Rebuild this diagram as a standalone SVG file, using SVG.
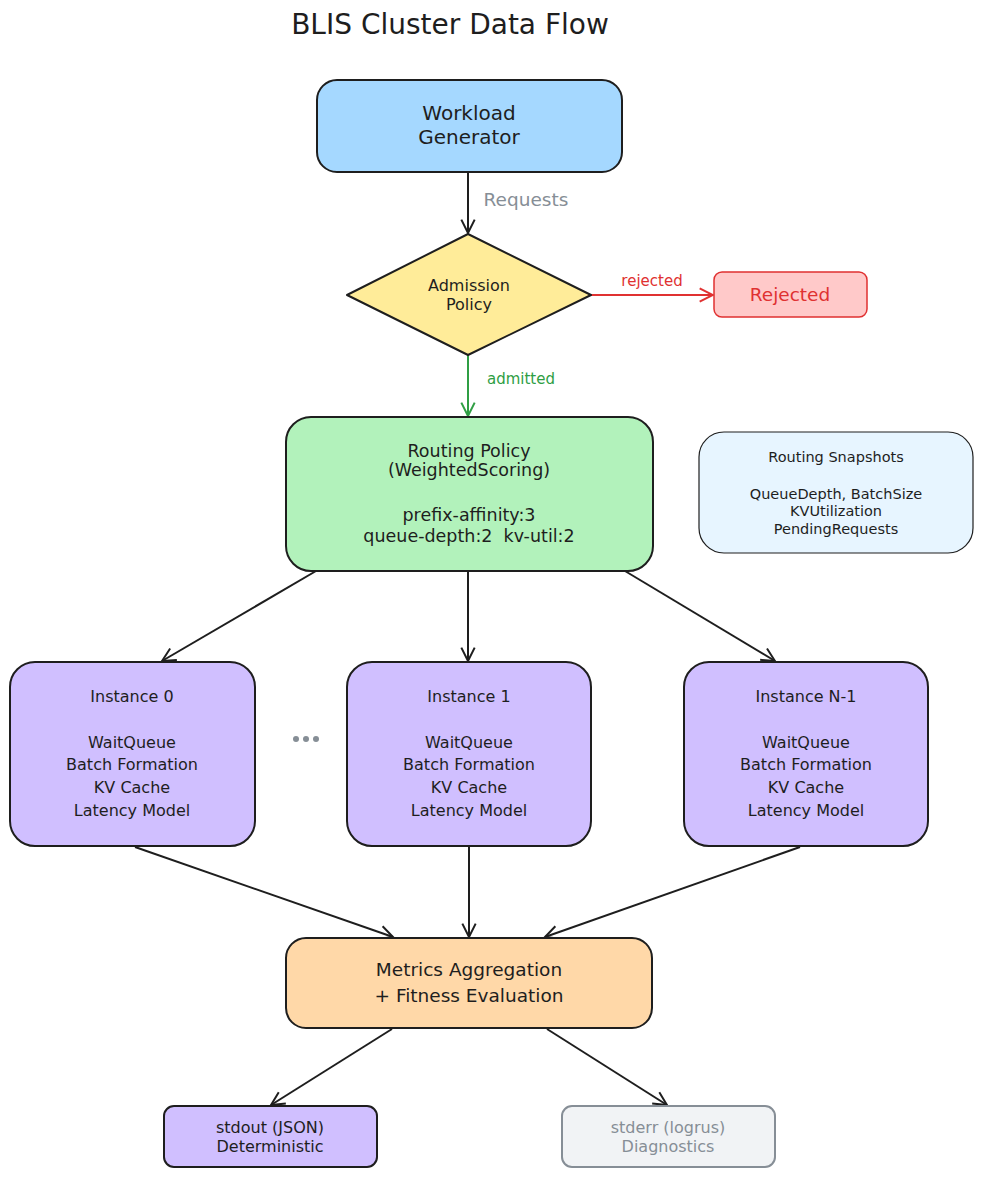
<svg xmlns="http://www.w3.org/2000/svg" width="984" height="1177" viewBox="0 0 984 1177">
  <style>
    text { font-family: "DejaVu Sans", "Liberation Sans", sans-serif; text-anchor: middle; fill: #1e1e1e; }
    .box { stroke: #1e1e1e; stroke-width: 2; }
    .edge { fill: none; stroke: #1e1e1e; stroke-width: 2; }
    .title { font-size: 28px; }
    .t20 { font-size: 20px; }
    .t18 { font-size: 18.5px; }
    .t17 { font-size: 17.5px; }
    .t16 { font-size: 16px; }
    .t15 { font-size: 16px; }
    .t14 { font-size: 14.5px; }
    .tlab { font-size: 15px; }
    .muted { fill: #868e96; }
    .red { fill: #e03131; }
    .green { fill: #2f9e44; }
  </style>
  <defs>
    <marker id="arrow" viewBox="0 0 12 12" refX="11" refY="6" markerWidth="16" markerHeight="16" markerUnits="userSpaceOnUse" orient="auto">
      <path d="M1,1 L11,6 L1,11" fill="none" stroke="#1e1e1e" stroke-width="1.5"/>
    </marker>
    <marker id="arrow-red" viewBox="0 0 12 12" refX="11" refY="6" markerWidth="16" markerHeight="16" markerUnits="userSpaceOnUse" orient="auto">
      <path d="M1,1 L11,6 L1,11" fill="none" stroke="#e03131" stroke-width="1.5"/>
    </marker>
    <marker id="arrow-green" viewBox="0 0 12 12" refX="11" refY="6" markerWidth="16" markerHeight="16" markerUnits="userSpaceOnUse" orient="auto">
      <path d="M1,1 L11,6 L1,11" fill="none" stroke="#2f9e44" stroke-width="1.5"/>
    </marker>
  </defs>

  <rect width="984" height="1177" fill="#ffffff"/>

  <text class="title" x="450" y="34">BLIS Cluster Data Flow</text>

  <!-- connectors -->
  <g id="connectors">
    <line class="edge" x1="468" y1="172" x2="468" y2="233" marker-end="url(#arrow)"/>
    <text class="t18 muted" x="526" y="206">Requests</text>

    <line class="edge" x1="591" y1="295" x2="713" y2="295" style="stroke:#e03131" marker-end="url(#arrow-red)"/>
    <text class="tlab red" x="652" y="286">rejected</text>

    <line class="edge" x1="468" y1="355" x2="468" y2="416" style="stroke:#2f9e44" marker-end="url(#arrow-green)"/>
    <text class="tlab green" x="521" y="384">admitted</text>

    <line class="edge" x1="316" y1="571" x2="162" y2="661" marker-end="url(#arrow)"/>
    <line class="edge" x1="468" y1="571" x2="468" y2="661" marker-end="url(#arrow)"/>
    <line class="edge" x1="625" y1="571" x2="775" y2="661" marker-end="url(#arrow)"/>

    <line class="edge" x1="135" y1="847" x2="393" y2="937" marker-end="url(#arrow)"/>
    <line class="edge" x1="469" y1="847" x2="469" y2="937" marker-end="url(#arrow)"/>
    <line class="edge" x1="800" y1="847" x2="545" y2="937" marker-end="url(#arrow)"/>

    <line class="edge" x1="392" y1="1029" x2="271" y2="1105" marker-end="url(#arrow)"/>
    <line class="edge" x1="547" y1="1029" x2="667" y2="1105" marker-end="url(#arrow)"/>
  </g>

  <g id="workload-generator">
    <rect class="box" x="317" y="80" width="305" height="92" rx="20" fill="#a5d8ff"/>
    <text class="t20" x="469" y="120">Workload</text>
    <text class="t20" x="469" y="144">Generator</text>
  </g>

  <g id="admission-policy">
    <polygon class="box" points="468,234 591,295 468,355 347,295" fill="#ffec99" stroke-linejoin="round"/>
    <text class="t16" x="469" y="291">Admission</text>
    <text class="t16" x="469" y="310">Policy</text>
  </g>

  <g id="rejected">
    <rect x="714" y="272" width="153" height="45" rx="8" fill="#ffc9c9" stroke="#e03131" stroke-width="1.5"/>
    <text class="t18 red" x="790" y="301">Rejected</text>
  </g>

  <g id="routing-policy">
    <rect class="box" x="286" y="417" width="367" height="154" rx="25" fill="#b2f2bb"/>
    <text class="t17" x="469" y="457">Routing Policy</text>
    <text class="t17" x="469" y="476">(WeightedScoring)</text>
    <text class="t17" x="469" y="521">prefix-affinity:3</text>
    <text class="t17" x="469" y="542" xml:space="preserve">queue-depth:2  kv-util:2</text>
  </g>

  <g id="routing-snapshots">
    <rect x="699" y="432" width="274" height="121" rx="25" fill="#e7f5ff" stroke="#1e1e1e" stroke-width="1.2"/>
    <text class="t14" x="836" y="462">Routing Snapshots</text>
    <text class="t14" x="836" y="499">QueueDepth, BatchSize</text>
    <text class="t14" x="836" y="516">KVUtilization</text>
    <text class="t14" x="836" y="534">PendingRequests</text>
  </g>

  <g id="instance-0">
    <rect class="box" x="10" y="662" width="245" height="184" rx="25" fill="#d0bfff"/>
    <text class="t15" x="132" y="702">Instance 0</text>
    <text class="t15" x="132" y="748">WaitQueue</text>
    <text class="t15" x="132" y="770">Batch Formation</text>
    <text class="t15" x="132" y="793">KV Cache</text>
    <text class="t15" x="132" y="816">Latency Model</text>
  </g>

  <g id="ellipsis">
    <circle cx="296" cy="739" r="3" fill="#868e96"/>
    <circle cx="306" cy="739" r="3" fill="#868e96"/>
    <circle cx="316" cy="739" r="3" fill="#868e96"/>
  </g>

  <g id="instance-1">
    <rect class="box" x="347" y="662" width="244" height="184" rx="25" fill="#d0bfff"/>
    <text class="t15" x="469" y="702">Instance 1</text>
    <text class="t15" x="469" y="748">WaitQueue</text>
    <text class="t15" x="469" y="770">Batch Formation</text>
    <text class="t15" x="469" y="793">KV Cache</text>
    <text class="t15" x="469" y="816">Latency Model</text>
  </g>

  <g id="instance-n-1">
    <rect class="box" x="684" y="662" width="244" height="184" rx="25" fill="#d0bfff"/>
    <text class="t15" x="806" y="702">Instance N-1</text>
    <text class="t15" x="806" y="748">WaitQueue</text>
    <text class="t15" x="806" y="770">Batch Formation</text>
    <text class="t15" x="806" y="793">KV Cache</text>
    <text class="t15" x="806" y="816">Latency Model</text>
  </g>

  <g id="metrics-aggregation">
    <rect class="box" x="286" y="938" width="366" height="90" rx="20" fill="#ffd8a8"/>
    <text class="t18" x="469" y="976">Metrics Aggregation</text>
    <text class="t18" x="469" y="1002">+ Fitness Evaluation</text>
  </g>

  <g id="stdout">
    <rect class="box" x="164" y="1106" width="213" height="61" rx="10" fill="#d0bfff"/>
    <text class="t16" x="270" y="1133">stdout (JSON)</text>
    <text class="t16" x="270" y="1152">Deterministic</text>
  </g>

  <g id="stderr">
    <rect x="562" y="1106" width="213" height="61" rx="10" fill="#f1f3f5" stroke="#868e96" stroke-width="2"/>
    <text class="t16 muted" x="668" y="1133">stderr (logrus)</text>
    <text class="t16 muted" x="668" y="1152">Diagnostics</text>
  </g>
</svg>
